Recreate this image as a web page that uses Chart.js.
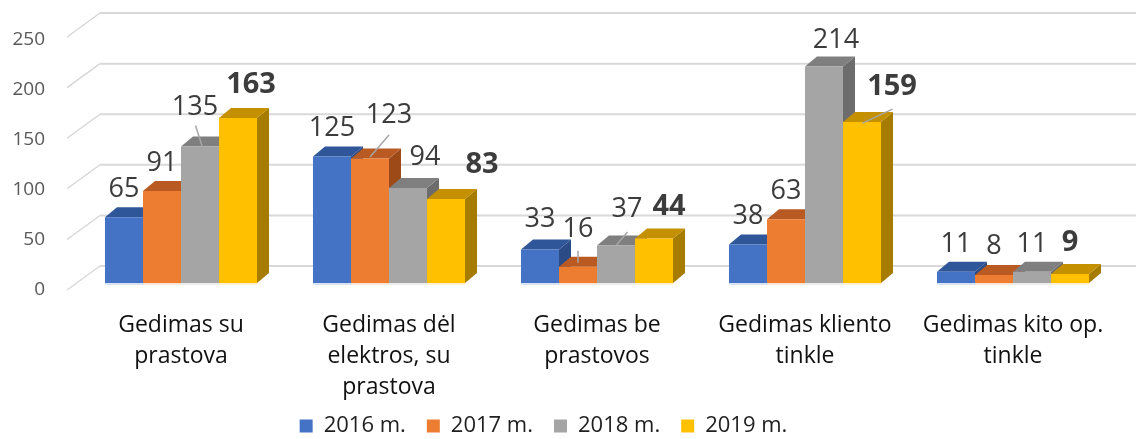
<!DOCTYPE html>
<html><head><meta charset="utf-8">
<script src="https://cdn.jsdelivr.net/npm/chart.js@4.4.1/dist/chart.umd.min.js"></script>
<style>html,body{margin:0;padding:0;background:#fff;overflow:hidden}#wrap{width:1136px;height:439px}</style>
</head><body><div id="wrap"><canvas id="c" width="1136" height="439"></canvas></div>
<script>
// ---- data ----
const categories = [
  ['Gedimas su', 'prastova'],
  ['Gedimas dėl', 'elektros, su', 'prastova'],
  ['Gedimas be', 'prastovos'],
  ['Gedimas kliento', 'tinkle'],
  ['Gedimas kito op.', 'tinkle']
];
const seriesNames = ['2016 m.', '2017 m.', '2018 m.', '2019 m.'];
const values2016 = [65, 125, 33, 38, 11];
const values2017 = [91, 123, 16, 63, 8];
const values2018 = [135, 94, 37, 214, 11];
const values2019 = [163, 83, 44, 159, 9];
const yTicks = [0, 50, 100, 150, 200, 250];

// ---- style ----
const seriesData = [values2016, values2017, values2018, values2019];
const palette = [
  {front: '#4472C4', top: '#30569A', side: '#2A4B86', tint: '#DAE3F3'},
  {front: '#ED7D31', top: '#B95A22', side: '#9E4A18', tint: '#FBE5D6'},
  {front: '#A5A5A5', top: '#7F7F7F', side: '#6C6C6C', tint: '#EDEDED'},
  {front: '#FFC000', top: '#C49000', side: '#A67C00', tint: '#FFF2CC'}
];
const DEPTH_X = 12, DEPTH_Y = 10;       // bar depth projection
const WALL_FRONT_DX = -10, WALL_BACK_DX = 23, WALL_FRONT_DY = 7, WALL_BACK_DY = -17;
// label placement relative to bar top centre [dx, dy]; default [0,-30]
const labelShift = {
  '0,2': [0, -32], '1,1': [19, -45], '1,2': [0, -39], '1,4': [0, -31],
  '2,0': [-5, -41], '2,1': [17, -33], '2,2': [11, -38], '2,3': [12, -28],
  '3,0': [13, -35], '3,1': [36, -36], '3,2': [15, -34], '3,3': [30, -37], '3,4': [0, -33]
};
const leaders = {
  '1,1': [[19, -23.5], [0, -1.5]],
  '1,2': [[0, -16], [0, -4]],
  '2,0': [[-4.5, -21], [2.5, 1]],
  '2,2': [[11.5, -13.5], [0.5, -0.5]],
  '3,3': [[30.5, -13], [0.5, 1]]
};
const FONT = 'Open Sans';

const threeD = {
  id: 'threeD',
  afterLayout(chart) {
    const lg = chart.legend;
    if (lg) { const shift = 543.5 - (lg.left + lg.right) / 2; lg.left += shift; lg.right += shift; }
    chart.scales.x.bottom = chart.height; // let the 3rd label line show fully
  },
  beforeDatasetsDraw(chart) {
    const ctx = chart.ctx, y = chart.scales.y, area = chart.chartArea;
    ctx.save();
    yTicks.forEach(v => {
      const p = y.getPixelForValue(v);
      const yb = p + WALL_BACK_DY, yf = p + WALL_FRONT_DY;
      const xb = area.left + WALL_BACK_DX, xf = area.left + WALL_FRONT_DX;
      ctx.strokeStyle = '#D9D9D9'; ctx.lineWidth = 2;
      ctx.beginPath(); ctx.moveTo(xb, yb); ctx.lineTo(chart.width, yb); ctx.stroke();
      ctx.lineWidth = 1.3; ctx.strokeStyle = '#D6D6D6';
      ctx.beginPath(); ctx.moveTo(xf, yf); ctx.lineTo(xb, yb); ctx.stroke();
    });
    // 3D top and side faces, series in order so later bars overlap earlier ones
    chart.data.datasets.forEach((ds, di) => {
      const col = palette[di];
      chart.getDatasetMeta(di).data.forEach(bar => {
        const {x, y: top, base, width} = bar.getProps(['x', 'y', 'base', 'width'], true);
        const x0 = x - width / 2, x1 = x + width / 2;
        ctx.fillStyle = col.side;
        ctx.beginPath(); ctx.moveTo(x1, top); ctx.lineTo(x1 + DEPTH_X, top - DEPTH_Y);
        ctx.lineTo(x1 + DEPTH_X, base - DEPTH_Y); ctx.lineTo(x1, base); ctx.closePath(); ctx.fill();
        ctx.fillStyle = col.top;
        ctx.beginPath(); ctx.moveTo(x0, top); ctx.lineTo(x1, top);
        ctx.lineTo(x1 + DEPTH_X, top - DEPTH_Y); ctx.lineTo(x0 + DEPTH_X, top - DEPTH_Y); ctx.closePath(); ctx.fill();
        ctx.fillStyle = col.tint;
        ctx.fillRect(x0, base, width, 2);
      });
    });
    ctx.restore();
  },
  afterDatasetsDraw(chart) {
    const ctx = chart.ctx;
    ctx.save();
    chart.data.datasets.forEach((ds, di) => {
      const meta = chart.getDatasetMeta(di);
      meta.data.forEach((bar, ci) => {
        const {x, y} = bar.getProps(['x', 'y'], true);
        const key = di + ',' + ci;
        const sh = labelShift[key] || [0, -30];
        const bold = di === 3;
        const fs = bold ? 29 : 27;
        ctx.font = (bold ? '700 ' : '500 ') + fs + 'px "' + FONT + '"';
        ctx.fillStyle = '#3C3C3C'; ctx.textAlign = 'center'; ctx.textBaseline = 'alphabetic';
        ctx.fillText(String(ds.data[ci]), x + sh[0], y + sh[1] + 0.357 * fs);
        if (leaders[key]) {
          const [a, b] = leaders[key];
          ctx.strokeStyle = '#A6A6A6'; ctx.lineWidth = 1.5;
          ctx.beginPath(); ctx.moveTo(x + a[0], y + a[1]); ctx.lineTo(x + b[0], y + b[1]); ctx.stroke();
        }
      });
    });
    ctx.restore();
  }
};

new Chart(document.getElementById('c'), {
  type: 'bar',
  data: {
    labels: categories,
    datasets: seriesNames.map((n, i) => ({
      label: n, data: seriesData[i], backgroundColor: palette[i].front, borderWidth: 0,
      yAxisID: 'y', categoryPercentage: 0.731, barPercentage: 1.0, clip: false
    }))
  },
  options: {
    responsive: false, animation: false, devicePixelRatio: 1,
    layout: {padding: {left: 0, right: 19, top: 16.5, bottom: 0}},
    plugins: {
      legend: {
        position: 'bottom', maxHeight: 45,
        labels: {boxWidth: 13, boxHeight: 13, padding: 21, color: '#1F1F1F', font: {family: FONT, size: 22}}
      },
      tooltip: {enabled: false}
    },
    scales: {
      x: {
        grid: {display: false, drawTicks: false}, border: {display: false},
        ticks: {autoSkip: false, maxRotation: 0, minRotation: 0, padding: 17, color: '#111',
          font: {family: FONT, size: 23, lineHeight: 1.35}},
        afterFit(s) { s.height = 101; }
      },
      y: {type: 'linear', display: false, min: -9.88, max: 236.8},
      y2: {
        type: 'linear', position: 'left', min: -3, max: 246.6,
        grid: {display: false, drawTicks: false}, border: {display: false},
        afterBuildTicks(a) { a.ticks = yTicks.map(v => ({value: v})); },
        ticks: {padding: 32, color: '#595959', font: {family: FONT, size: 19, weight: '500'}},
        afterFit(s) { s.width = 77; }
      }
    }
  },
  plugins: [threeD]
});
</script>
</body></html>
